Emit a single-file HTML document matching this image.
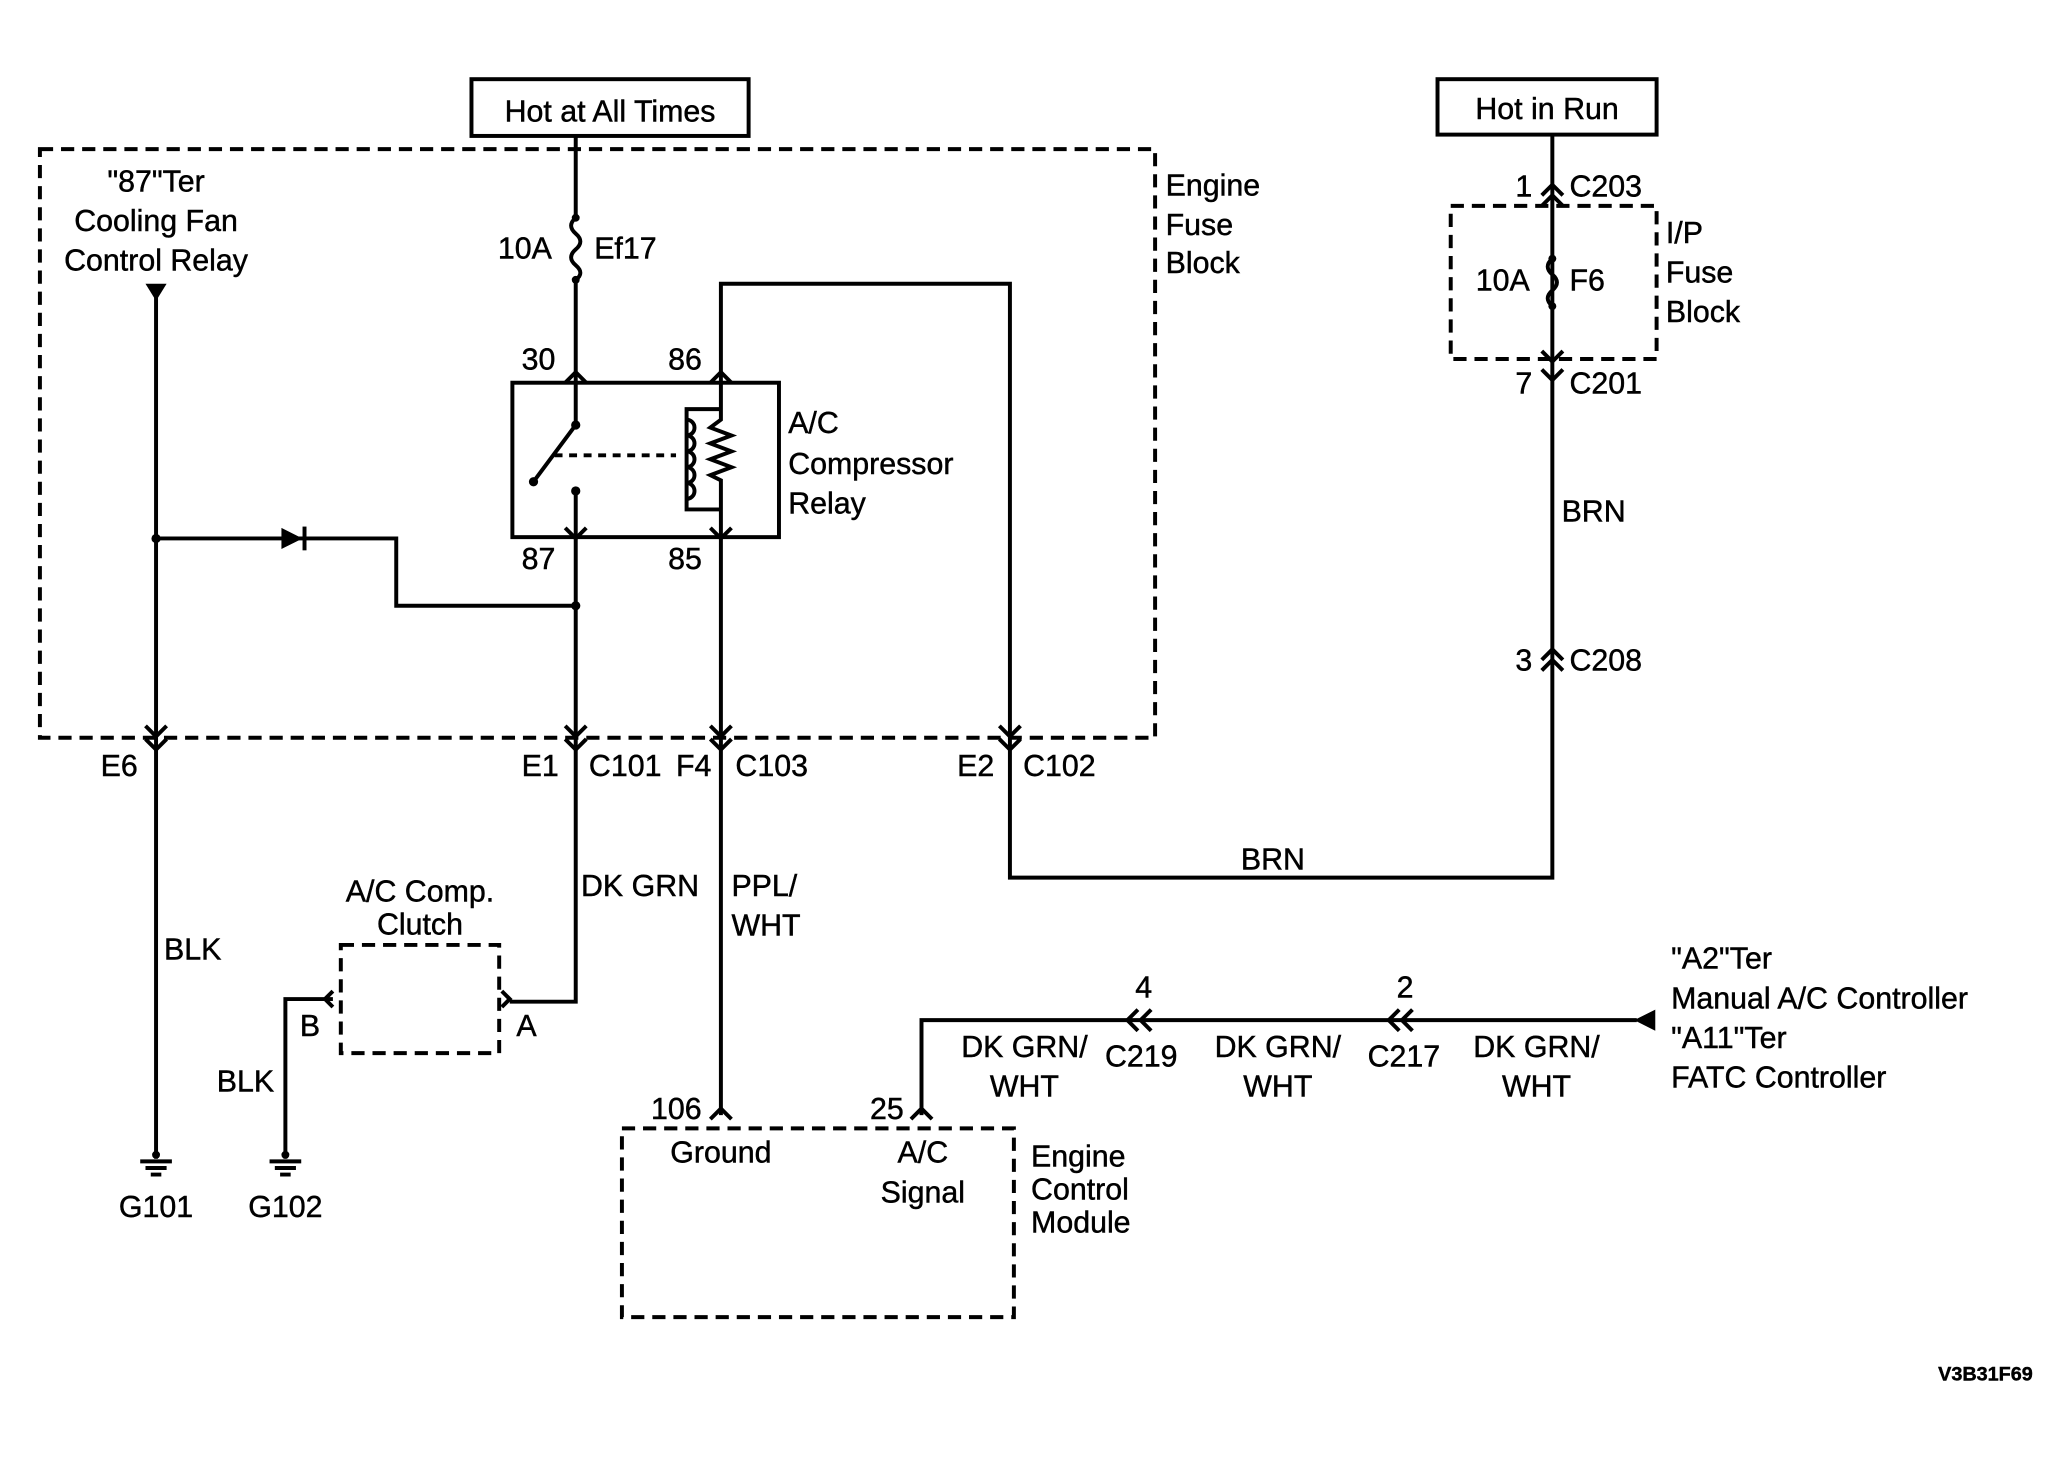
<!DOCTYPE html>
<html><head><meta charset="utf-8"><style>
html,body{margin:0;padding:0;background:#fff;}
svg{display:block;}
text{font-family:"Liberation Sans",Arial,sans-serif;font-size:23px;fill:#000;stroke:#000;stroke-width:0.35;}
</style></head><body>
<svg width="2070" height="1457" viewBox="0 0 1568 1104" xmlns="http://www.w3.org/2000/svg">
<g fill="none" stroke="#000" stroke-width="3">
<rect x="357" y="60" width="210" height="43"/>
<rect x="1089" y="60" width="166" height="42"/>
<g stroke-dasharray="10,6">
<rect x="30" y="113" width="845" height="446"/>
<rect x="1099" y="156" width="156" height="116"/>
<rect x="258" y="716" width="120" height="82"/>
<rect x="471" y="855" width="297" height="143"/>
</g>
<rect x="388" y="290" width="202" height="117"/>
<path d="M118 225 V878"/>
<path d="M118 408 H300 V459 H436"/>
<path d="M436 103 V165 M436 212 V290 M436 407 V759 H386"/>
<path d="M436 165 q-7 6 0 12 q7 6 0 12 q-7 6 0 12 q7 6 0 11"/>
<path d="M546 290 V215 H765 V665 H1176 V102"/>
<path d="M546 407 V845"/>
<path d="M1176 196 q-7 6 0 12 q7 6 0 12 q-7 6 0 12"/>
<path d="M436 290 V322 L404 365 M436 407 V372"/>
<path d="M420 345 H512" stroke-dasharray="6,5"/>
<path d="M546 290 V310 H520 V386 H546 V407 M546 310 V318 l-8 6 l16 6 l-16 6 l16 6 l-16 6 l16 6 l-16 6 l8 4 V386"/>
<path d="M520 318 a6 6 0 0 1 0 12 a6 6 0 0 1 0 12 a6 6 0 0 1 0 12 a6 6 0 0 1 0 12 a6 6 0 0 1 0 12"/>
<path d="M216 878 V757 H252"/>
<path d="M1240 773 H698 V845"/>
<path d="M110 550 l8 8 l8 -8 M110 560 l8 8 l8 -8"/>
<path d="M428 550 l8 8 l8 -8 M428 560 l8 8 l8 -8"/>
<path d="M538 550 l8 8 l8 -8 M538 560 l8 8 l8 -8"/>
<path d="M757 550 l8 8 l8 -8 M757 560 l8 8 l8 -8"/>
<path d="M428 290 l8 -8 l8 8 M428 400 l8 8 l8 -8"/>
<path d="M538 290 l8 -8 l8 8 M538 400 l8 8 l8 -8"/>
<path d="M1168 156 l8 -8 l8 8 M1168 148 l8 -8 l8 8"/>
<path d="M1168 266 l8 8 l8 -8 M1168 280 l8 8 l8 -8"/>
<path d="M1168 500 l8 -8 l8 8 M1168 508 l8 -8 l8 8"/>
<path d="M380 751 l6 6 l-6 6 M252 751 l-6 6 l6 6"/>
<path d="M538 848 l8 -8 l8 8 M690 848 l8 -8 l8 8"/>
<path d="M862 765 l-8 8 l8 8 M872 765 l-8 8 l8 8"/>
<path d="M1060 765 l-8 8 l8 8 M1070 765 l-8 8 l8 8"/>
<path d="M106 880 H130 M110 885 H126 M114 890 H122"/>
<path d="M204 880 H228 M208 885 H224 M212 890 H220"/>
</g>
<g fill="#000">
<path d="M110 215 H126 L118 228 Z"/>
<path d="M213 400 L229 408 L213 416 Z"/><rect x="229" y="399" width="3" height="18"/>
<path d="M1254 765 L1238 773 L1254 781 Z"/>
<circle cx="118" cy="408" r="3.5"/><circle cx="436" cy="459" r="3.5"/>
<circle cx="436" cy="322" r="3.5"/><circle cx="404" cy="365" r="3.5"/><circle cx="436" cy="372" r="3.5"/>
<circle cx="436" cy="165" r="3"/><circle cx="436" cy="212" r="3"/>
<circle cx="1176" cy="196" r="3"/><circle cx="1176" cy="232" r="3"/>
<circle cx="118" cy="875" r="3"/><circle cx="216" cy="875" r="3"/>
</g>
<text x="462" y="92" text-anchor="middle">Hot at All Times</text>
<text x="1172" y="90" text-anchor="middle">Hot in Run</text>
<text x="118" y="145" text-anchor="middle">"87"Ter</text>
<text x="118" y="175" text-anchor="middle">Cooling Fan</text>
<text x="118" y="205" text-anchor="middle">Control Relay</text>
<text x="883" y="148">Engine</text><text x="883" y="178">Fuse</text><text x="883" y="207">Block</text>
<text x="377" y="196">10A</text><text x="450" y="196">Ef17</text>
<text x="395" y="280">30</text><text x="506" y="280">86</text>
<text x="395" y="431">87</text><text x="506" y="431">85</text>
<text x="597" y="328">A/C</text><text x="597" y="359">Compressor</text><text x="597" y="389">Relay</text>
<text x="1148" y="149">1</text><text x="1189" y="149">C203</text>
<text x="1262" y="184">I/P</text><text x="1262" y="214">Fuse</text><text x="1262" y="244">Block</text>
<text x="1118" y="220">10A</text><text x="1189" y="220">F6</text>
<text x="1148" y="298">7</text><text x="1189" y="298">C201</text>
<text x="1183" y="395">BRN</text>
<text x="1148" y="508">3</text><text x="1189" y="508">C208</text>
<text x="76" y="588">E6</text>
<text x="395" y="588">E1</text><text x="446" y="588">C101</text>
<text x="512" y="588">F4</text><text x="557" y="588">C103</text>
<text x="725" y="588">E2</text><text x="775" y="588">C102</text>
<text x="940" y="659">BRN</text>
<text x="318" y="683" text-anchor="middle">A/C Comp.</text>
<text x="318" y="708" text-anchor="middle">Clutch</text>
<text x="440" y="679">DK GRN</text>
<text x="554" y="679">PPL/</text><text x="554" y="709">WHT</text>
<text x="124" y="727">BLK</text>
<text x="227" y="785">B</text><text x="391" y="785">A</text>
<text x="164" y="827">BLK</text>
<text x="118" y="922" text-anchor="middle">G101</text>
<text x="216" y="922" text-anchor="middle">G102</text>
<text x="1266" y="734">"A2"Ter</text>
<text x="1266" y="764">Manual A/C Controller</text>
<text x="1266" y="794">"A11"Ter</text>
<text x="1266" y="824">FATC Controller</text>
<text x="860" y="756">4</text><text x="1058" y="756">2</text>
<text x="837" y="808">C219</text><text x="1036" y="808">C217</text>
<text x="776" y="801" text-anchor="middle">DK GRN/</text><text x="776" y="831" text-anchor="middle">WHT</text>
<text x="968" y="801" text-anchor="middle">DK GRN/</text><text x="968" y="831" text-anchor="middle">WHT</text>
<text x="1164" y="801" text-anchor="middle">DK GRN/</text><text x="1164" y="831" text-anchor="middle">WHT</text>
<text x="493" y="848">106</text><text x="659" y="848">25</text>
<text x="546" y="881" text-anchor="middle">Ground</text>
<text x="699" y="881" text-anchor="middle">A/C</text><text x="699" y="911" text-anchor="middle">Signal</text>
<text x="781" y="884">Engine</text><text x="781" y="909">Control</text><text x="781" y="934">Module</text>
<text x="1540" y="1046" text-anchor="end" style="font-size:15px;font-weight:bold">V3B31F69</text>
</svg>
</body></html>
